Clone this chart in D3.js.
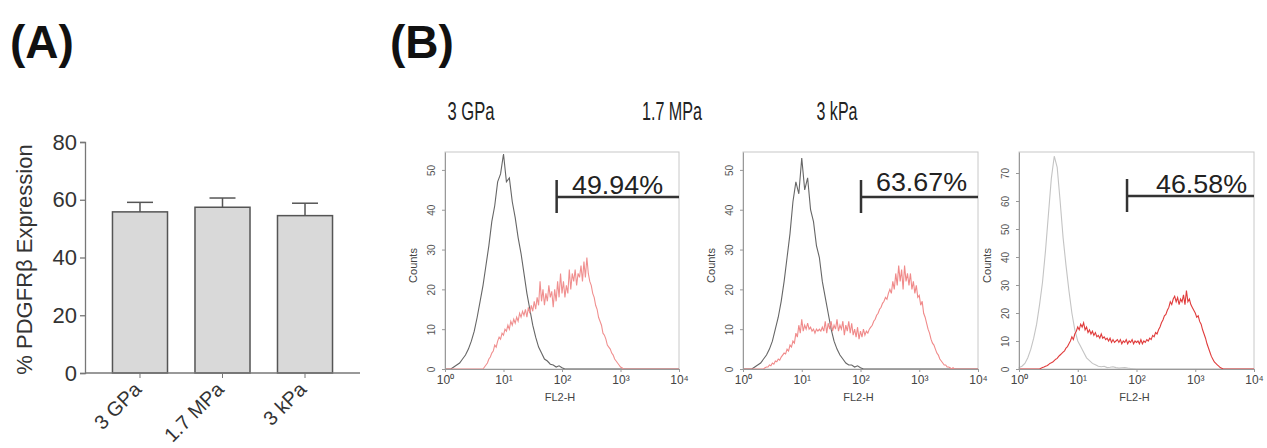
<!DOCTYPE html>
<html>
<head>
<meta charset="utf-8">
<script src="https://cdn.jsdelivr.net/npm/d3@7"></script>
<style>
  body { margin: 0; background: #fff; }
  svg { display: block; font-family: Arial, "Liberation Sans", sans-serif; }
</style>
</head>
<body>
<svg id="chart" width="1267" height="448"></svg>
<script>
// Panel A data
const barCategories = ['3 GPa', '1.7 MPa', '3 kPa'];
const barMeans = [55.8, 57.4, 54.5];
const barErrors = [3.3, 3.2, 4.3];
const barTicks = [0, 20, 40, 60, 80];

// Panel B data: flow histograms (counts per channel, log10 channel start + step)
const histTitles = ['3 GPa', '1.7 MPa', '3 kPa'];
const histPercents = ['49.94%', '63.67%', '46.58%'];
const histGates = [81, 102, 69];
const histYMax = [54.5, 54.5, 77.5];
const histYTicks = [[0, 10, 20, 30, 40, 50], [0, 10, 20, 30, 40, 50], [0, 10, 20, 30, 40, 50, 60, 70]];
const xDecades = [1, 10, 100, 1000, 10000];

const gpaControlStart = 0, gpaControlStep = 0.05;
const gpaControl = [0, 0, 0, 0.5, 1, 1.5, 2.5, 3.5, 5, 7, 9.5, 13, 17, 21, 26, 31, 37, 41, 47, 49,
  54, 47, 48, 42, 38, 33, 29, 24, 19, 15, 11, 8, 5.5, 4, 2.5, 2, 1.2, 1, 0.5, 0.8, 0.3, 0];
const gpaStained = [0, 0.5, 1, 1.5, 2.5, 3, 4, 4.5, 6, 5.5, 7, 8, 7.5, 9, 8.5, 10, 9.5, 11, 10, 12,
  11, 12.5, 11.5, 13, 12, 14, 13, 14.5, 13.5, 15, 13, 15.5, 14, 16, 14.5, 17, 15, 18, 16, 22,
  17, 20, 16, 19, 17, 21, 18, 19.5, 15.5, 20, 17, 22, 18, 24, 19, 22, 18, 21, 19, 25,
  20, 24, 22, 25, 21, 24, 23, 26, 22, 27, 23, 28, 24, 22, 21, 19, 18, 16, 15, 13,
  12, 11, 9, 8.5, 7.5, 6, 5.5, 5, 4, 3.5, 2.5, 2, 1.5, 1, 0.5, 0.3, 0];
const gpaStainedStart = 0.65, gpaStainedStep = 0.025;

const mpaControlStart = 0, mpaControlStep = 0.05;
const mpaControl = [0, 0, 0, 0, 0.5, 1, 1.5, 2.5, 3.5, 5, 7, 10, 13, 17, 22, 28, 34, 42, 47, 44,
  53, 45, 48, 40, 37, 31, 28, 22, 18, 14, 10, 7, 5, 3.5, 2.5, 1.5, 1, 1, 0.5, 0.8, 0.3, 0];
const mpaStainedStart = 0.35, mpaStainedStep = 0.025;
const mpaStained = [0, 0.3, 0.5, 0.5, 1, 0.8, 1.5, 1.2, 2, 1.8, 2.5, 2.2, 3, 3.5, 4, 3.8, 5, 4.5, 6, 5.5,
  7, 6.5, 9, 8, 11, 9, 12.5, 9.5, 11, 10, 11.5, 10, 10.5, 9.5, 10, 9, 10, 9.5, 10, 9.5,
  10.5, 9.5, 12, 9, 11.5, 10, 12, 9.5, 11, 10, 12.5, 9.5, 11, 10, 12, 8.5, 11, 9.5, 12, 9,
  11.5, 8.5, 10, 8, 10.5, 7.5, 9.5, 8, 10, 8.5, 9.5, 9, 10, 10.5, 11, 12, 12.5, 13.5, 14, 15,
  15.5, 16.5, 17, 18, 17.5, 19, 20, 19, 22, 20, 24, 21, 26, 22, 25, 20, 26, 22, 24, 21,
  24, 20, 22, 19, 21, 18, 18.5, 16, 17, 14, 13, 11.5, 10, 9, 7.5, 6.5, 6, 5, 4, 3.5,
  2.5, 2, 1.5, 1, 1, 0.5, 0.5, 0.3, 0, 0.3, 0];

const kpaControlStart = 0, kpaControlStep = 0.05;
const kpaControl = [0.5, 1, 2, 4, 7, 11, 16, 23, 31, 42, 55, 68, 76, 72, 60, 47, 37, 28, 20, 14,
  10, 8, 6, 4, 3, 2, 1.5, 1, 0.8, 1, 0.5, 0.6, 0.8, 0.5, 0.3, 0.4, 0.5, 0.3, 0.2, 0.1, 0];
const kpaStainedStart = 0.35, kpaStainedStep = 0.025;
const kpaStained = [0, 0.3, 0.5, 0.7, 1, 1.2, 1.5, 2, 2.2, 2.5, 3, 3.5, 3.8, 4.5, 5, 5.5, 6, 6.5, 7.5, 8,
  9, 10, 11.5, 10.5, 12.5, 13.5, 15, 14, 16, 15, 16.5, 14, 15, 13, 14, 12.5, 13.5, 12, 13, 11.5,
  12, 11, 12.5, 11, 11.5, 10.5, 11, 10, 11, 9.5, 10.5, 9.5, 10, 10.5, 9.5, 10.5, 9, 10, 9.5, 10.5,
  9, 10, 9.5, 10.5, 9, 10, 9.5, 10, 9, 10.5, 9, 10, 9.5, 10.5, 10, 11, 10.5, 12, 11.5, 13,
  12.5, 14, 15, 16.5, 17.5, 19, 19.5, 21, 22, 24, 23, 25, 26, 24, 25.5, 23, 25, 24, 26.5, 23,
  28, 24, 25, 23, 22, 21, 20, 18.5, 19, 17, 16, 14, 12.5, 11, 9, 7.5, 6, 4.5, 3.5, 2.5,
  2, 1.5, 1, 0.5, 0.3, 0];

const histPanels = [
  { control: gpaControl, cStart: gpaControlStart, cStep: gpaControlStep,
    stained: gpaStained, sStart: gpaStainedStart, sStep: gpaStainedStep },
  { control: mpaControl, cStart: mpaControlStart, cStep: mpaControlStep,
    stained: mpaStained, sStart: mpaStainedStart, sStep: mpaStainedStep },
  { control: kpaControl, cStart: kpaControlStart, cStep: kpaControlStep,
    stained: kpaStained, sStart: kpaStainedStart, sStep: kpaStainedStep }
];

const svg = d3.select('#chart');

// Panel labels
svg.append('text').attr('x', 10).attr('y', 58)
  .style('font-size', '46px').style('font-weight', 'bold').attr('fill', '#111').text('(A)');
svg.append('text').attr('x', 390).attr('y', 58)
  .style('font-size', '46px').style('font-weight', 'bold').attr('fill', '#111').text('(B)');

// ---- Panel A: bar chart ----
const a = { left: 85, right: 360, top: 142, bottom: 373 };
const xBand = d3.scaleBand().domain(barCategories).range([a.left, a.right])
  .paddingInner(0.333).paddingOuter(0.333);
const yBar = d3.scaleLinear().domain([0, 80]).range([a.bottom, a.top]);

const gA = svg.append('g');
gA.selectAll('.bar').data(barCategories).enter()
  .append('rect')
  .attr('x', d => xBand(d))
  .attr('y', (d, i) => yBar(barMeans[i]))
  .attr('width', xBand.bandwidth())
  .attr('height', (d, i) => yBar(0) - yBar(barMeans[i]))
  .attr('fill', '#d9d9d9').attr('stroke', '#555').attr('stroke-width', 1.5);

// error bars (upper only)
barCategories.forEach((c, i) => {
  const cx = xBand(c) + xBand.bandwidth() / 2;
  gA.append('line').attr('x1', cx).attr('x2', cx)
    .attr('y1', yBar(barMeans[i])).attr('y2', yBar(barMeans[i] + barErrors[i]))
    .attr('stroke', '#555').attr('stroke-width', 1.5);
  gA.append('line').attr('x1', cx - 13).attr('x2', cx + 13)
    .attr('y1', yBar(barMeans[i] + barErrors[i])).attr('y2', yBar(barMeans[i] + barErrors[i]))
    .attr('stroke', '#555').attr('stroke-width', 1.5);
});

const yAxisA = gA.append('g').attr('transform', `translate(${a.left},0)`)
  .call(d3.axisLeft(yBar).tickValues(barTicks).tickSize(5).tickPadding(3));
yAxisA.selectAll('text').style('font-size', '22px').attr('fill', '#333');
yAxisA.selectAll('line, path').attr('stroke', '#777').attr('stroke-width', 1.3);

const xAxisA = gA.append('g').attr('transform', `translate(0,${a.bottom})`)
  .call(d3.axisBottom(xBand).tickSize(5).tickSizeOuter(0));
xAxisA.select('.domain').attr('d', `M${a.left},0H${a.right}`).attr('stroke', '#777').attr('stroke-width', 1.3);
xAxisA.selectAll('line').attr('stroke', '#777');
xAxisA.selectAll('text')
  .style('font-size', '20px').attr('fill', '#333')
  .attr('text-anchor', 'end')
  .attr('dy', 0)
  .attr('transform', 'translate(-3,12) rotate(-45)');

svg.append('text')
  .attr('transform', `translate(32,${(a.top + a.bottom) / 2 + 2}) rotate(-90)`)
  .attr('text-anchor', 'middle').style('font-size', '22px').attr('fill', '#333')
  .text('% PDGFRβ Expression');

// ---- Panel B: flow histograms ----
const frames = [
  { left: 445, right: 679 },
  { left: 743, right: 978 },
  { left: 1019, right: 1254 }
];
const hTop = 152, hBottom = 369;
const titleX = [471, 672, 837];
const titleW = [47, 60, 41];
const pctRight = [663, 967, 1247];
const pctBase = [194, 191, 193];
const gateY = [197, 197, 196];
const controlColor = ['#666', '#666', '#c4c4c4'];
const stainedColor = ['#f09090', '#f08a8a', '#e03c3c'];

const superscripts = ['⁰', '¹', '²', '³', '⁴'];

histPanels.forEach((p, k) => {
  const f = frames[k];
  const g = svg.append('g');
  const x = d3.scaleLog().domain([1, 10000]).range([f.left, f.right]);
  const y = d3.scaleLinear().domain([0, histYMax[k]]).range([hBottom, hTop]);

  // title
  g.append('text').attr('x', titleX[k]).attr('y', 120).attr('text-anchor', 'middle')
    .style('font-size', '26px').attr('fill', '#222')
    .attr('textLength', titleW[k]).attr('lengthAdjust', 'spacingAndGlyphs')
    .text(histTitles[k]);

  // frame
  g.append('rect').attr('x', f.left).attr('y', hTop)
    .attr('width', f.right - f.left).attr('height', hBottom - hTop)
    .attr('fill', 'none').attr('stroke', '#c8c8c8').attr('stroke-width', 1);

  const line = d3.line().x(d => x(d[0])).y(d => y(d[1]));

  const ctrl = p.control.map((v, i) => [Math.pow(10, p.cStart + i * p.cStep), v]);
  const stn = p.stained.map((v, i) => [Math.pow(10, p.sStart + i * p.sStep), v]);
  // baseline before/after each curve across the frame
  const ctrlPts = [[1, 0]].concat(ctrl, [[10000, 0]]);
  const stnPts = [[1, 0]].concat(stn, [[10000, 0]]);

  g.append('path').attr('d', line(ctrlPts)).attr('fill', 'none')
    .attr('stroke', controlColor[k]).attr('stroke-width', 1.1);
  g.append('path').attr('d', line(stnPts)).attr('fill', 'none')
    .attr('stroke', stainedColor[k]).attr('stroke-width', 1.1);

  // axes
  const yAx = g.append('g').attr('transform', `translate(${f.left},0)`)
    .call(d3.axisLeft(y).tickValues(histYTicks[k]).tickSize(3).tickPadding(3).tickSizeOuter(0));
  yAx.select('.domain').attr('stroke', '#999');
  yAx.selectAll('line').attr('stroke', '#999');
  yAx.selectAll('text').style('font-size', '10px').attr('fill', '#555')
    .attr('text-anchor', 'middle').attr('dy', 0)
    .attr('transform', 'translate(-10,0) rotate(-90)')
    .attr('x', 0).attr('y', 0);

  const xAx = g.append('g').attr('transform', `translate(0,${hBottom})`)
    .call(d3.axisBottom(x).tickValues(xDecades).tickSize(3).tickPadding(3).tickSizeOuter(0)
      .tickFormat((d, i) => '10' + superscripts[i]));
  xAx.select('.domain').attr('stroke', '#999');
  xAx.selectAll('line').attr('stroke', '#999');
  xAx.selectAll('text').style('font-size', '12px').attr('fill', '#444');

  g.append('text').attr('x', (f.left + f.right) / 2 - 2).attr('y', 401)
    .attr('text-anchor', 'middle').style('font-size', '11px').attr('fill', '#444').text('FL2-H');
  g.append('text')
    .attr('transform', `translate(${f.left - 28},${(hTop + hBottom) / 2 + 5}) rotate(-90)`)
    .attr('text-anchor', 'middle').style('font-size', '11px').attr('fill', '#444').text('Counts');

  // gate marker
  const gx = x(histGates[k]);
  g.append('line').attr('x1', gx).attr('x2', gx).attr('y1', gateY[k] - 17).attr('y2', gateY[k] + 16)
    .attr('stroke', '#333').attr('stroke-width', 2.5);
  g.append('line').attr('x1', gx).attr('x2', f.right).attr('y1', gateY[k]).attr('y2', gateY[k])
    .attr('stroke', '#333').attr('stroke-width', 2.5);
  g.append('text').attr('x', pctRight[k]).attr('y', pctBase[k]).attr('text-anchor', 'end')
    .style('font-size', '25px').attr('fill', '#222')
    .attr('textLength', 91).attr('lengthAdjust', 'spacingAndGlyphs')
    .text(histPercents[k]);
});
</script>
</body>
</html>
